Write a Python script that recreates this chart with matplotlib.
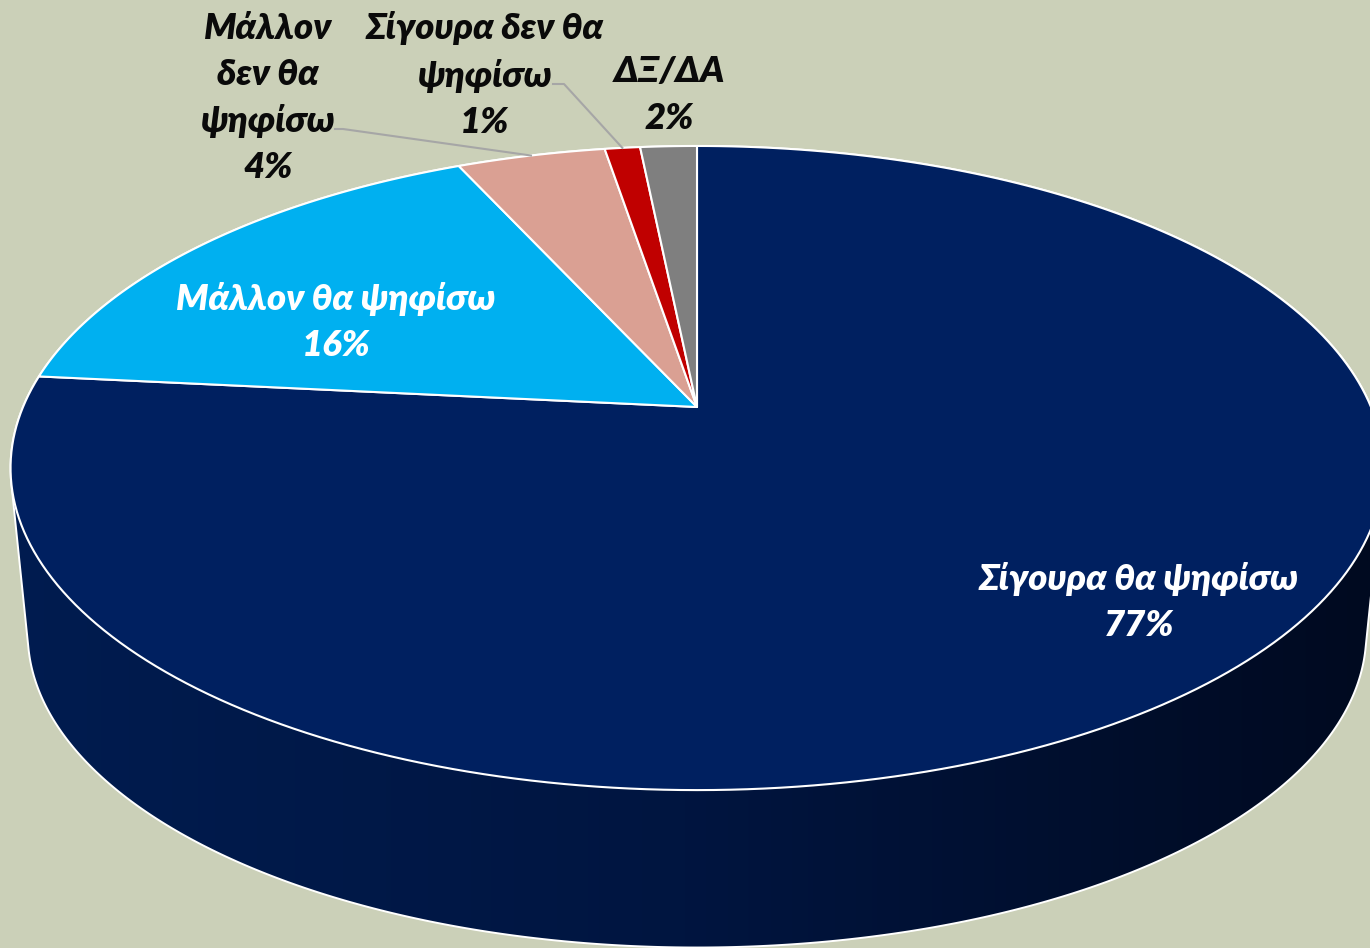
import numpy as np
import matplotlib
matplotlib.use("Agg")
import matplotlib.pyplot as plt
from matplotlib.patches import Polygon
from matplotlib.colors import LinearSegmentedColormap

categories = ["Σίγουρα θα ψηφίσω", "Μάλλον θα ψηφίσω", "Μάλλον\nδεν θα\nψηφίσω",
              "Σίγουρα δεν θα\nψηφίσω", "ΔΞ/ΔΑ"]
values = [76.6, 16.6, 4.2, 1.0, 1.6]
labels_pct = ["77%", "16%", "4%", "1%", "2%"]
colors = ["#002060", "#00B0F0", "#DAA093", "#C00000", "#7F7F7F"]
text_colors = ["white", "white", "#0A0A0A", "#0A0A0A", "#0A0A0A"]
label_xy = [(1139, 602), (336, 322), (268, 98), (485, 75), (669, 95)]

BG = "#CBD0B8"
CX, CY, A, B, K = 697.0, 407.0, 674.0, 310.5, 0.1895
DEPTH_SCALE, DEPTH_Y = 0.975, 574.0

plt.rcParams["font.family"] = ["Lato", "Open Sans", "DejaVu Sans"]
fig = plt.figure(figsize=(13.70, 9.48), dpi=100, facecolor=BG)
ax = fig.add_axes([0, 0, 1, 1])
ax.set_xlim(0, 1370)
ax.set_ylim(948, 0)
ax.axis("off")


def project(pct, scale=1.0, cy=CY):
    """Perspective view of a point on the pie; pct runs clockwise from 12 o'clock."""
    t = np.radians(np.asarray(pct, dtype=float) * 3.6)
    x, y = np.sin(t), np.cos(t)
    d = 1 + K * y
    return CX + scale * A * x / d, cy - scale * B * y / d


def convex_hull(points):
    pts = sorted(set(map(tuple, points)))

    def half(seq):
        out = []
        for p in seq:
            while len(out) > 1 and ((out[-1][0] - out[-2][0]) * (p[1] - out[-2][1])
                                    - (out[-1][1] - out[-2][1]) * (p[0] - out[-2][0])) <= 0:
                out.pop()
            out.append(p)
        return out[:-1]

    return half(pts) + half(pts[::-1])


# side wall: outline of the top and bottom rims, shaded left to right
pp = np.linspace(0, 100, 720, endpoint=False)
tx, ty = project(pp)
bx, by = project(pp, DEPTH_SCALE, DEPTH_Y)
hull = convex_hull(np.c_[np.r_[tx, bx], np.r_[ty, by]])
cmap = LinearSegmentedColormap.from_list("side", [(0, "#001C50"), (0.5, "#001540"), (1, "#000A20")])
grad = np.linspace(0, 1, 512)[None, :]
im = ax.imshow(grad, cmap=cmap, extent=(0, 1370, 948, 0), aspect="auto", zorder=1)
patch = Polygon(hull, closed=True, facecolor="none", edgecolor="white", lw=1.4, zorder=1.5)
ax.add_patch(patch)
im.set_clip_path(patch)
ax.set_xlim(0, 1370)
ax.set_ylim(948, 0)

# top face
cum = np.concatenate([[0], np.cumsum(values)])
cum = cum / cum[-1] * 100
for i, c in enumerate(colors):
    p = np.linspace(cum[i], cum[i + 1], 240)
    x, y = project(p)
    ax.fill(np.r_[CX, x], np.r_[CY, y], facecolor=c, edgecolor="white", lw=1.5,
            joinstyle="round", zorder=2)

# leader lines
leaders = [(2, (335, 129), (343, 129)), (3, (553, 84), (564, 84))]
for i, p0, p1 in leaders:
    ex, ey = project((cum[i] + cum[i + 1]) / 2)
    ax.plot([p0[0], p1[0], ex], [p0[1], p1[1], ey], color="#A6A6A6", lw=1.5, zorder=3)

# labels
for name, pct, xy, tc in zip(categories, labels_pct, label_xy, text_colors):
    ax.text(xy[0], xy[1], f"{name}\n{pct}", ha="center", va="center", color=tc,
            fontsize=26.2, fontweight="heavy", fontstyle="italic", linespacing=1.484, zorder=4)

fig.savefig("out.png", dpi=100, facecolor=BG)
